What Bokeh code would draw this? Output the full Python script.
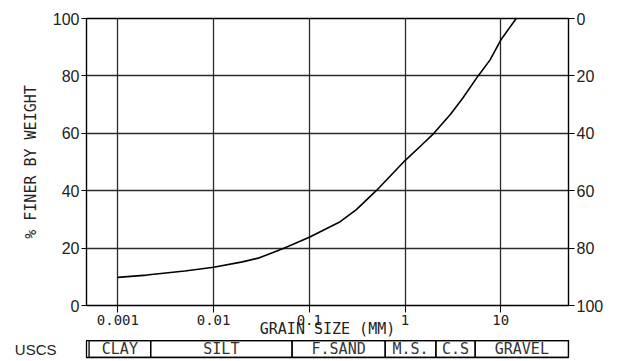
from bokeh.plotting import figure
from bokeh.models import FixedTicker, CustomJSTickFormatter, LinearAxis, Range1d
from bokeh.layouts import column
from bokeh.embed import file_html
from bokeh.resources import INLINE
from bokeh.core.properties import value

# ---- data ----
grain_mm = [0.001, 0.002, 0.005, 0.01, 0.02, 0.03, 0.055, 0.1, 0.21, 0.31,
            0.5, 1.0, 1.5, 2.0, 3.0, 4.0, 5.8, 7.7, 10.0, 14.5]
pct_finer = [9.8, 10.6, 12.0, 13.3, 15.2, 16.6, 20.0, 23.8, 29.2, 33.4,
             40.0, 50.5, 56.0, 60.0, 66.7, 72.2, 80.0, 85.5, 92.5, 100.0]

x_ticks = [0.001, 0.01, 0.1, 1, 10]
y_ticks = [0, 20, 40, 60, 80, 100]

uscs_names = ["CLAY", "SILT", "F.SAND", "M.S.", "C.S", "GRAVEL"]
uscs_bounds = [0.0005, 0.0022, 0.066, 0.62, 2.1, 5.4, 51]

X_START, X_END = 0.00047, 51

MONO = "DejaVu Sans Mono"
SANS = "Liberation Sans"

p = figure(width=624, height=340, x_axis_type="log",
           x_range=Range1d(X_START, X_END), y_range=Range1d(0, 100),
           output_backend="svg", toolbar_location=None,
           min_border_left=86, min_border_right=56,
           min_border_top=18, min_border_bottom=35)
p.background_fill_color = "white"
p.border_fill_color = "white"
p.outline_line_color = "black"
p.outline_line_width = 1.4

p.line(grain_mm, pct_finer, line_color="black", line_width=1.6)

# bottom axis
xa = p.xaxis[0]
xa.ticker = FixedTicker(ticks=x_ticks)
xa.formatter = CustomJSTickFormatter(code="return tick.toString();")
xa.minor_tick_line_color = None
xa.major_tick_out = 7
xa.major_tick_in = 0
xa.major_tick_line_color = "black"
xa.axis_line_color = "black"
xa.major_label_standoff = 2
xa.major_label_text_font = MONO
xa.major_label_text_font_size = "14px"
xa.major_label_text_color = "#222222"
xa.axis_label = "GRAIN SIZE (MM)"
xa.axis_label_text_font = MONO
xa.axis_label_text_font_size = "15px"
xa.axis_label_text_font_style = "normal"
xa.axis_label_text_color = "#222222"
xa.axis_label_standoff = -8

# left axis
ya = p.yaxis[0]
ya.ticker = FixedTicker(ticks=y_ticks)
ya.minor_tick_line_color = None
ya.major_tick_out = 5
ya.major_tick_in = 0
ya.axis_line_color = "black"
ya.major_label_standoff = 2
ya.major_label_text_font = SANS
ya.major_label_text_font_size = "16px"
ya.major_label_text_color = "#222222"
ya.axis_label = "% FINER BY WEIGHT"
ya.axis_label_text_font = MONO
ya.axis_label_text_font_size = "15px"
ya.axis_label_text_font_style = "normal"
ya.axis_label_text_color = "#222222"
ya.axis_label_standoff = 10

# right axis: % coarser
p.extra_y_ranges = {"coarser": Range1d(100, 0)}
ra = LinearAxis(y_range_name="coarser", ticker=FixedTicker(ticks=y_ticks))
ra.minor_tick_line_color = None
ra.major_tick_out = 6
ra.major_tick_in = 0
ra.axis_line_color = "black"
ra.major_label_standoff = 2
ra.major_label_text_font = SANS
ra.major_label_text_font_size = "16px"
ra.major_label_text_color = "#222222"
p.add_layout(ra, "right")

p.xgrid.grid_line_color = "#2a2a2a"
p.xgrid.grid_line_width = 1.3
p.ygrid.grid_line_color = "#2a2a2a"
p.ygrid.grid_line_width = 1.3

# ---- USCS classification strip ----
t = figure(width=624, height=21, x_axis_type="log", x_range=p.x_range,
           y_range=Range1d(0, 1), output_backend="svg", toolbar_location=None,
           x_axis_location=None, min_border_left=86, min_border_right=56,
           min_border_top=0, min_border_bottom=4)
t.background_fill_color = "white"
t.border_fill_color = "white"
t.outline_line_color = "black"
t.outline_line_width = 1.3
t.grid.visible = False

t.quad(left=uscs_bounds[:-1], right=uscs_bounds[1:], bottom=0, top=1,
       fill_color=None, line_color="black", line_width=1.3)
centers = [(a * b) ** 0.5 for a, b in zip(uscs_bounds[:-1], uscs_bounds[1:])]
t.text(x=centers, y=[0.5] * len(centers), text=uscs_names,
       text_align="center", text_baseline="middle",
       text_font=value(MONO), text_font_size="15px", text_color="#333333")

ta = t.yaxis[0]
ta.ticker = FixedTicker(ticks=[0.5])
ta.formatter = CustomJSTickFormatter(code="return 'USCS';")
ta.axis_line_color = None
ta.major_tick_line_color = None
ta.minor_tick_line_color = None
ta.major_label_standoff = 24
ta.major_label_text_font = SANS
ta.major_label_text_font_size = "15px"
ta.major_label_text_color = "#222222"

layout = column(p, t, spacing=0)
open("out.html", "w").write(file_html(layout, INLINE))
